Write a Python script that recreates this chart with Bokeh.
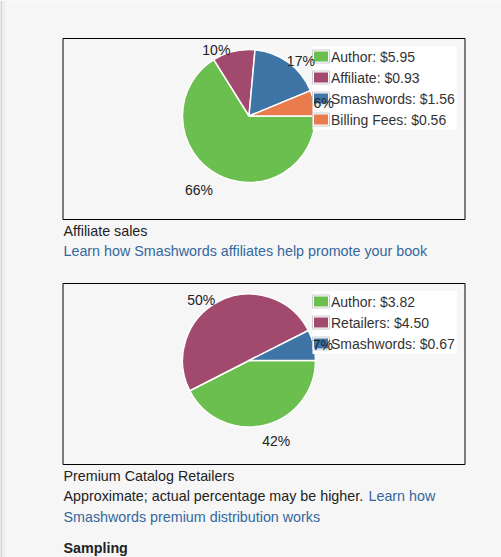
import math
from bokeh.plotting import figure
from bokeh.models import Range1d, ColumnDataSource
from bokeh.embed import file_html
from bokeh.resources import INLINE
from bokeh.core.properties import value

# ---- data ----
affiliate_names = ["Author", "Affiliate", "Smashwords", "Billing Fees"]
affiliate_values = [5.95, 0.93, 1.56, 0.56]

premium_names = ["Author", "Retailers", "Smashwords"]
premium_values = [3.82, 4.50, 0.67]

slice_colors = ["#6bbf4e", "#a2496e", "#3f75a6", "#e97b4c"]

affiliate_caption = "Affiliate sales"
affiliate_link = "Learn how Smashwords affiliates help promote your book"
premium_caption = "Premium Catalog Retailers"
premium_note = "Approximate; actual percentage may be higher."
premium_link_1 = "Learn how"
premium_link_2 = "Smashwords premium distribution works"
next_heading = "Sampling"

# ---- style ----
BG = "#f6f6f6"
FONT = value("Liberation Sans")
TEXT = "#222222"
LINK = "#33679e"
W, H = 501, 557

p = figure(width=W, height=H, x_range=Range1d(0, W), y_range=Range1d(-H, 0),
           output_backend="svg", toolbar_location=None, x_axis_type=None, y_axis_type=None,
           min_border=0, background_fill_color=BG, border_fill_color=BG,
           outline_line_color=None)


def Y(py):
    return -py


# page edge strip
p.quad(left=[1], right=[5], top=[0], bottom=[-H], fill_color="#efefef", line_color=None)
p.segment(x0=[0.5], x1=[0.5], y0=[0], y1=[-H], line_color="#a6bad4", line_width=1)


def draw_pie(names, values, box_top, box_bottom, cx, cy, r=66.5):
    # frame box
    p.quad(left=[62.5], right=[464.5], top=[Y(box_top)], bottom=[Y(box_bottom)],
           fill_color=None, line_color="#000000", line_width=1)
    total = sum(values)
    cum = [0.0]
    for v in values:
        cum.append(cum[-1] + v / total)
    n = len(values)
    starts = [-2 * math.pi * cum[i + 1] for i in range(n)]
    ends = [-2 * math.pi * cum[i] for i in range(n)]
    src = ColumnDataSource(dict(x=[cx] * n, y=[Y(cy)] * n, start=starts, end=ends,
                                color=slice_colors[:n]))
    p.wedge(x="x", y="y", radius=r, start_angle="start", end_angle="end",
            fill_color="color", line_color="white", line_width=1.5, source=src)
    # legend
    lg_top = box_top + 7.5
    row_h = 21
    p.quad(left=[312], right=[456.5], top=[Y(lg_top)], bottom=[Y(lg_top + row_h * n)],
           fill_color="white", line_color=None)
    rows = [Y(lg_top + 10.5 + row_h * i) for i in range(n)]
    p.rect(x=[320.5] * n, y=rows, width=17, height=13, fill_color="white",
           line_color="#cccccc", line_width=1)
    p.rect(x=[320.5] * n, y=rows, width=14, height=10, fill_color=slice_colors[:n],
           line_color=None)
    p.text(x=[330.5] * n, y=rows, text=["%s: $%.2f" % (names[i], values[i]) for i in range(n)],
           text_font=FONT, text_font_size="14px", text_color="#333333",
           text_baseline="middle", text_align="left")
    # percentage labels (drawn on top), anchored on their side facing the pie
    R = r * 1.03
    for i in range(n):
        mid = -math.pi * (cum[i] + cum[i + 1])
        c = math.cos(mid)
        s = -math.sin(mid)  # screen-down component
        px = cx - 2.8 + R * c
        py = cy + R * s + (14.3 if s > 0 else 0.3)
        p.text(x=[px], y=[Y(py)], text=["%d%%" % round(100 * values[i] / total)],
               text_font=FONT, text_font_size="14px", text_color=TEXT,
               text_baseline="middle", text_align="left" if c > 0 else "right")


draw_pie(affiliate_names, affiliate_values, 38, 219, 248.5, 115.5)
draw_pie(premium_names, premium_values, 283, 464, 248.5, 360)


def line(x, py, s, color, size="14.3px", style="normal", baseline="middle"):
    p.text(x=[x], y=[Y(py)], text=[s], text_font=FONT, text_font_size=size,
           text_color=color, text_baseline=baseline, text_align="left",
           text_font_style=style)


line(63, 230, affiliate_caption, TEXT)
line(63, 250.5, affiliate_link, LINK)
line(63, 475, premium_caption, TEXT)
line(63, 495.5, premium_note, TEXT)
line(368, 495.5, premium_link_1, LINK)
line(63, 516.5, premium_link_2, LINK)
line(63, 555.5, next_heading, TEXT, style="bold", baseline="bottom")

open("out.html", "w").write(file_html(p, INLINE))
